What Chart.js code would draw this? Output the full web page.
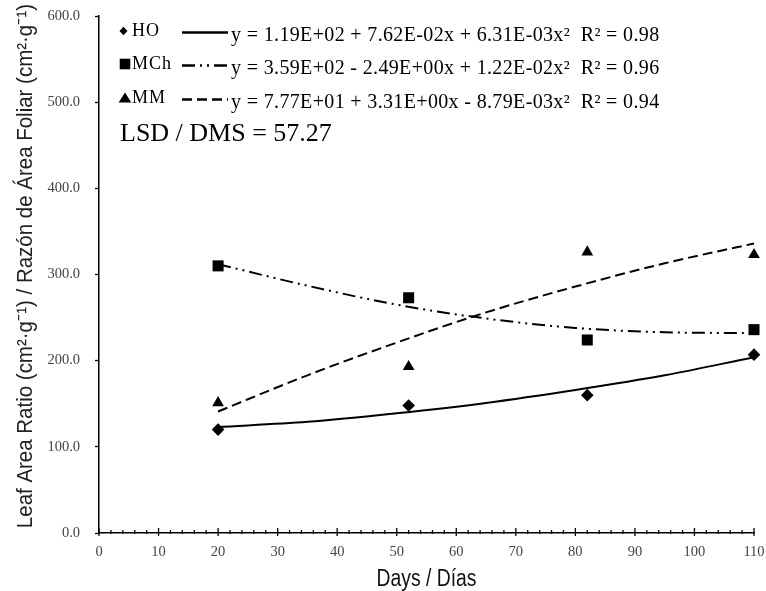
<!DOCTYPE html>
<html>
<head>
<meta charset="utf-8">
<script src="https://cdn.jsdelivr.net/npm/chart.js@4/dist/chart.umd.min.js"></script>
<style>
  html, body { margin: 0; padding: 0; background: #fff; }
  #wrap { width: 766px; height: 591px; position: relative; }
</style>
</head>
<body>
<div id="wrap"><canvas id="myChart"></canvas></div>
<script>
// measured points
var days = [20, 52, 82, 110];
var hoValues = [120, 148, 160, 207];
var mchValues = [310, 273, 224, 236];
var mmValues = [151, 193, 326, 323];

// fitted curves
var fitDays = [20, 35, 50, 65, 80, 95, 110];
var hoFit = [123, 129, 139, 151, 166, 183, 204];
var mchFit = [312, 287, 265, 249, 238, 233, 232];
var mmFit = [141, 183, 221, 256, 286, 313, 336];

var seriesNames = ["HO", "MCh", "MM"];
var equations = [
  "y = 1.19E+02 + 7.62E-02x + 6.31E-03x\u00B2  R\u00B2 = 0.98",
  "y = 3.59E+02 - 2.49E+00x + 1.22E-02x\u00B2  R\u00B2 = 0.96",
  "y = 7.77E+01 + 3.31E+00x - 8.79E-03x\u00B2  R\u00B2 = 0.94"
];
var lsdText = "LSD / DMS = 57.27";
var xTitle = "Days / D\u00EDas";
var yTitle = "Leaf Area Ratio (cm\u00B2\u00B7g\u207B\u00B9) / Raz\u00F3n de \u00C1rea Foliar (cm\u00B2\u00B7g\u207B\u00B9)";

var yTicks = [0, 100, 200, 300, 400, 500, 600];
var xTicks = [0, 10, 20, 30, 40, 50, 60, 70, 80, 90, 100, 110];

function pairs(xs, ys) {
  return xs.map(function (x, i) { return { x: x, y: ys[i] }; });
}

var dashes = [[], [13, 5, 2, 5, 2, 5], [10, 5]];
var shapes = ["rectRot", "rect", "triangle"];
var radii = [6.3, 7.8, 6.8];

// ticks on the x axis drawn upward, plus both axis titles in a narrow face
var axisPlugin = {
  id: "axisPlugin",
  afterDraw: function (chart) {
    var ctx = chart.ctx;
    var sx = chart.scales.x;
    var area = chart.chartArea;
    var y0 = area.bottom;
    ctx.save();
    ctx.strokeStyle = "#000";
    ctx.lineWidth = 1.3;
    for (var v = 0; v <= 110; v += 2) {
      var px = sx.getPixelForValue(v);
      var major = v % 10 === 0;
      ctx.beginPath();
      ctx.moveTo(px, y0 - (major ? 5 : 3));
      ctx.lineTo(px, y0 + (major ? 3 : 1));
      ctx.stroke();
    }
    ctx.restore();

    ctx.save();
    ctx.fillStyle = "#111";
    ctx.textAlign = "center";
    ctx.textBaseline = "middle";
    ctx.translate((area.left + area.right) / 2, 580);
    ctx.scale(0.84, 1);
    ctx.font = "23px 'Liberation Sans', Arial, sans-serif";
    ctx.fillText(xTitle, 0, 0);
    ctx.restore();

    ctx.save();
    ctx.fillStyle = "#222";
    ctx.textAlign = "center";
    ctx.textBaseline = "middle";
    ctx.translate(26, 266);
    ctx.rotate(-Math.PI / 2);
    ctx.scale(0.91, 1);
    ctx.font = "22.5px 'Liberation Sans', Arial, sans-serif";
    ctx.fillText(yTitle, 0, 0);
    ctx.restore();
  }
};

function drawMarker(ctx, shape, x, y) {
  ctx.beginPath();
  if (shape === "rectRot") {
    ctx.moveTo(x - 4, y); ctx.lineTo(x, y - 4.3); ctx.lineTo(x + 4, y); ctx.lineTo(x, y + 4.3);
  } else if (shape === "rect") {
    ctx.rect(x - 5.3, y - 5.3, 10.6, 10.6);
  } else {
    ctx.moveTo(x, y - 5.5); ctx.lineTo(x + 6.3, y + 4.5); ctx.lineTo(x - 6.3, y + 4.5);
  }
  ctx.closePath();
  ctx.fill();
}

var legendPlugin = {
  id: "legendPlugin",
  afterDraw: function (chart) {
    var ctx = chart.ctx;
    var rowY = [31, 64, 98];
    ctx.save();
    ctx.fillStyle = "#000";
    ctx.strokeStyle = "#000";
    for (var i = 0; i < 3; i++) {
      drawMarker(ctx, shapes[i], i === 0 ? 123.5 : 125, rowY[i]);
      ctx.font = "18px 'Liberation Serif', serif";
      ctx.textBaseline = "middle";
      ctx.textAlign = "left";
      ctx.letterSpacing = "1px";
      ctx.fillText(seriesNames[i], 132, rowY[i] + 0.5);
      ctx.letterSpacing = "0px";
      ctx.lineWidth = 2.5;
      ctx.setLineDash(dashes[i]);
      ctx.beginPath();
      ctx.moveTo(182, rowY[i] + 1.5);
      ctx.lineTo(228, rowY[i] + 1.5);
      ctx.stroke();
      ctx.setLineDash([]);
      ctx.font = "20px 'Liberation Serif', serif";
      ctx.letterSpacing = "0.35px";
      ctx.fillText(equations[i], 231, rowY[i] + 5, 430);
      ctx.letterSpacing = "0px";
    }
    ctx.font = "26px 'Liberation Serif', serif";
    ctx.fillText(lsdText, 120, 134, 214);
    ctx.restore();
  }
};

var datasets = [];
var fits = [hoFit, mchFit, mmFit];
var vals = [hoValues, mchValues, mmValues];
for (var i = 0; i < 3; i++) {
  datasets.push({
    label: seriesNames[i] + " fit",
    data: pairs(fitDays, fits[i]),
    borderColor: "#000",
    borderWidth: 2,
    borderDash: dashes[i],
    pointRadius: 0,
    cubicInterpolationMode: "monotone",
    showLine: true,
    fill: false,
    clip: false,
    order: 2
  });
}
for (var j = 0; j < 3; j++) {
  datasets.push({
    label: seriesNames[j],
    data: pairs(days, vals[j]),
    showLine: false,
    pointStyle: shapes[j],
    pointRadius: radii[j],
    pointBackgroundColor: "#000",
    pointBorderColor: "#000",
    pointBorderWidth: 0,
    clip: false,
    order: 1
  });
}

var ctx = document.getElementById("myChart").getContext("2d");
var myChart = new Chart(ctx, {
  type: "scatter",
  data: { datasets: datasets },
  plugins: [axisPlugin, legendPlugin],
  options: {
    responsive: true,
    maintainAspectRatio: false,
    animation: false,
    layout: { padding: { top: 16, right: 12, left: 0, bottom: 0 } },
    plugins: {
      legend: { display: false },
      tooltip: { enabled: false }
    },
    scales: {
      x: {
        type: "linear",
        min: 0,
        max: 110,
        afterBuildTicks: function (scale) {
          scale.ticks = xTicks.map(function (v) { return { value: v }; });
        },
        afterFit: function (scale) {
          scale.height = 58;
          scale.paddingLeft = 0;
          scale.paddingRight = 0;
        },
        grid: { display: true, drawOnChartArea: false, drawTicks: false, color: "#000" },
        border: { display: true, color: "#000", width: 1.5 },
        ticks: {
          color: "#444",
          padding: 10,
          maxRotation: 0,
          autoSkip: false,
          font: { family: "'Liberation Serif', serif", size: 14.5 }
        },
        title: { display: false }
      },
      y: {
        min: 0,
        max: 600,
        afterBuildTicks: function (scale) {
          scale.ticks = yTicks.map(function (v) { return { value: v }; });
        },
        afterFit: function (scale) {
          scale.width = 99;
          scale.paddingTop = 0;
          scale.paddingBottom = 0;
        },
        grid: { display: true, drawOnChartArea: false, drawTicks: true, tickLength: 4, color: "#000", tickWidth: 1.3 },
        border: { display: true, color: "#000", width: 1.5 },
        ticks: {
          color: "#444",
          padding: 15,
          font: { family: "'Liberation Serif', serif", size: 14.5 },
          callback: function (v) { return v.toFixed(1); }
        },
        title: { display: false }
      }
    }
  }
});
</script>
</body>
</html>
